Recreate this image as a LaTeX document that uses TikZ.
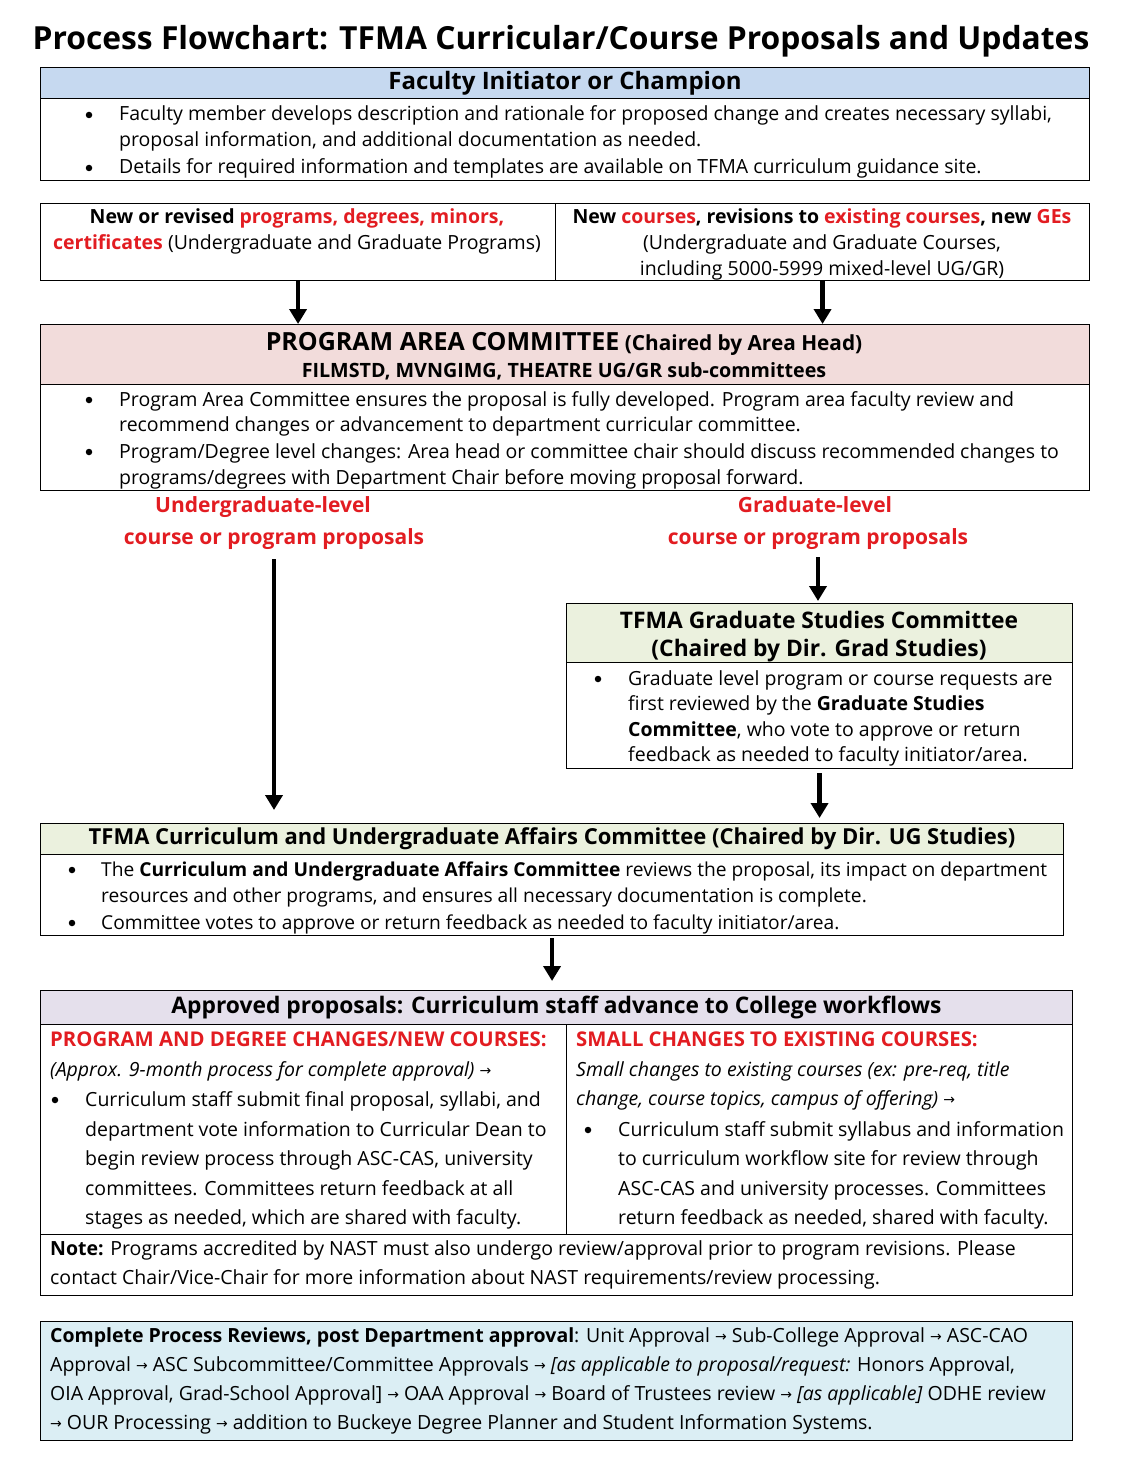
\documentclass[tikz,border=0pt]{standalone}
\usepackage{fontspec}
\setmainfont{Open Sans}
\newfontfamily\symfont{DejaVu Sans}
\usetikzlibrary{arrows.meta,positioning}

\definecolor{headblue}{RGB}{198,217,240}
\definecolor{headpink}{RGB}{242,220,219}
\definecolor{headgreen}{RGB}{235,241,222}
\definecolor{headlilac}{RGB}{229,224,236}
\definecolor{stepcyan}{RGB}{219,238,244}
\definecolor{tfmared}{RGB}{226,28,33}

\newcommand{\redtxt}[1]{\textcolor{tfmared}{#1}}
\newcommand{\rarr}{{\symfont\fontsize{14}{14}\selectfont\raisebox{0.5pt}{→}}}

\begin{document}
\begin{tikzpicture}[x=1pt,y=-1pt,
    box/.style={draw, line width=1.1pt, inner sep=0pt, anchor=north west},
    head/.style={box, font=\bfseries\fontsize{22.8}{27}\selectfont},
    txt/.style={anchor=base west, inner sep=0pt, font=\fontsize{19.5}{24}\selectfont},
    ctr/.style={anchor=base, inner sep=0pt, font=\fontsize{19.5}{24}\selectfont},
    dot/.style={circle, fill, inner sep=0pt, minimum size=6.5pt},
    lbl/.style={anchor=base, inner sep=0pt, text=tfmared, font=\bfseries\fontsize{21}{25}\selectfont},
    flow/.style={-{Triangle[width=17pt,length=15pt]}, line width=4.5pt}]

    \useasboundingbox (0,0) rectangle (1121,1474);

    % Title
    \node[anchor=base, inner sep=0pt, font=\bfseries\fontsize{31.8}{36}\selectfont] (title) at (561,50)
        {Process Flowchart: TFMA Curricular/Course Proposals and Updates};

    % Faculty initiator box
    \node[box, minimum width=1049pt, minimum height=113pt] (fac) at (40,67) {};
    \node[head, fill=headblue, minimum width=1049pt, minimum height=31pt, font=\bfseries\fontsize{24}{28}\selectfont] (facH) at (40,67)
        {Faculty Initiator or Champion};
    \foreach \y in {121, 174} {
        \node[dot] (facD\y) at (89,\y-6) {};
    }
    \foreach \y/\t in {121/{Faculty member develops description and rationale for proposed change and creates necessary syllabi,},
                       147/{proposal information, and additional documentation as needed.},
                       174/{Details for required information and templates are available on TFMA curriculum guidance site.}} {
        \node[txt] (facT\y) at (119,\y) {\t};
    }

    % Kinds of proposals
    \node[box, minimum width=515pt, minimum height=77pt] (progs) at (40,203) {};
    \node[box, minimum width=534pt, minimum height=77pt] (courses) at (555,203) {};
    \node[ctr] (progsT1) at (297,223) {\textbf{New or revised \redtxt{programs, degrees, minors,}}};
    \node[ctr] (progsT2) at (297,249) {\textbf{\redtxt{certificates}} (Undergraduate and Graduate Programs)};
    \node[ctr] (coursesT1) at (822,223) {\textbf{New \redtxt{courses}, revisions to \redtxt{existing courses}, new \redtxt{GEs}}};
    \node[ctr] (coursesT2) at (822,249) {(Undergraduate and Graduate Courses,};
    \node[ctr] (coursesT3) at (822,275) {including 5000-5999 mixed-level UG/GR)};

    % Program area committee
    \node[box, minimum width=1049pt, minimum height=166pt] (pac) at (40,324) {};
    \node[box, fill=headpink, minimum width=1049pt, minimum height=60pt] (pacH) at (40,324) {};
    \node[anchor=base, inner sep=0pt, font=\bfseries\fontsize{20.8}{25}\selectfont] (pacT1) at (564,350)
        {{\fontsize{25}{29}\selectfont PROGRAM AREA COMMITTEE} (Chaired by Area Head)};
    \node[ctr, font=\bfseries\fontsize{19.7}{24}\selectfont] (pacT2) at (564,377) {FILMSTD, MVNGIMG, THEATRE UG/GR sub-committees};
    \foreach \y in {406, 458} {
        \node[dot] (pacD\y) at (89,\y-6) {};
    }
    \foreach \y/\t in {406/{Program Area Committee ensures the proposal is fully developed. Program area faculty review and},
                       431/{recommend changes or advancement to department curricular committee.},
                       458/{Program/Degree level changes: Area head or committee chair should discuss recommended changes to},
                       484/{programs/degrees with Department Chair before moving proposal forward.}} {
        \node[txt] (pacT\y) at (119,\y) {\t};
    }

    % Level labels
    \node[lbl] (ugL1) at (263,512) {Undergraduate-level};
    \node[lbl] (ugL2) at (274,544) {course or program proposals};
    \node[lbl] (grL1) at (815,512) {Graduate-level};
    \node[lbl] (grL2) at (818,544) {course or program proposals};

    % Graduate studies committee
    \node[box, minimum width=506pt, minimum height=165pt] (grad) at (566,603) {};
    \node[box, fill=headgreen, minimum width=506pt, minimum height=59pt] (gradH) at (566,603) {};
    \node[anchor=base, inner sep=0pt, font=\bfseries\fontsize{22.8}{27}\selectfont] (gradT1) at (819,628) {TFMA Graduate Studies Committee};
    \node[anchor=base, inner sep=0pt, font=\bfseries\fontsize{22.8}{27}\selectfont] (gradT2) at (819,656) {(Chaired by Dir. Grad Studies)};
    \node[dot] (gradD) at (598,685-6) {};
    \foreach \y/\t in {685/{Graduate level program or course requests are},
                       710/{first reviewed by the \textbf{Graduate Studies}},
                       736/{\textbf{Committee}, who vote to approve or return},
                       761/{feedback as needed to faculty initiator/area.}} {
        \node[txt] (gradT\y) at (628,\y) {\t};
    }

    % Curriculum and undergraduate affairs committee
    \node[box, minimum width=1023pt, minimum height=112pt] (cur) at (40,823) {};
    \node[head, fill=headgreen, minimum width=1023pt, minimum height=31pt, font=\bfseries\fontsize{22}{26}\selectfont] (curH) at (40,823)
        {TFMA Curriculum and Undergraduate Affairs Committee (Chaired by Dir. UG Studies)};
    \foreach \y in {876, 929} {
        \node[dot] (curD\y) at (72,\y-6) {};
    }
    \foreach \y/\t in {876/{The \textbf{Curriculum and Undergraduate Affairs Committee} reviews the proposal, its impact on department},
                       902/{resources and other programs, and ensures all necessary documentation is complete.},
                       929/{Committee votes to approve or return feedback as needed to faculty initiator/area.}} {
        \node[txt, font=\fontsize{19.2}{24}\selectfont] (curT\y) at (101,\y) {\t};
    }

    % Approved proposals
    \node[box, minimum width=1032pt, minimum height=305pt] (app) at (40,990) {};
    \node[head, fill=headlilac, minimum width=1032pt, minimum height=34pt] (appH) at (40,990)
        {Approved proposals: Curriculum staff advance to College workflows};
    \node[box, minimum width=526pt, minimum height=210pt] (appL) at (40,1024) {};
    \node[box, minimum width=506pt, minimum height=210pt] (appR) at (566,1024) {};
    \node[txt, text=tfmared, font=\bfseries\fontsize{20.3}{24}\selectfont] (appLT) at (50,1046) {PROGRAM AND DEGREE CHANGES/NEW COURSES:};
    \node[txt] (appLI) at (50,1076) {\textit{(Approx. 9-month process for complete approval)} \rarr};
    \node[dot] (appLD) at (55,1106-6) {};
    \foreach \y/\t in {1106/{Curriculum staff submit final proposal, syllabi, and},
                       1136/{department vote information to Curricular Dean to},
                       1165/{begin review process through ASC-CAS, university},
                       1195/{committees. Committees return feedback at all},
                       1224/{stages as needed, which are shared with faculty.}} {
        \node[txt] (appLT\y) at (85,\y) {\t};
    }
    \node[txt, text=tfmared, font=\bfseries\fontsize{20.3}{24}\selectfont] (appRT) at (576,1046) {SMALL CHANGES TO EXISTING COURSES:};
    \node[txt] (appRI1) at (576,1076) {\textit{Small changes to existing courses (ex: pre-req, title}};
    \node[txt] (appRI2) at (576,1105) {\textit{change, course topics, campus of offering)} \rarr};
    \node[dot] (appRD) at (588,1136-6) {};
    \foreach \y/\t in {1136/{Curriculum staff submit syllabus and information},
                       1165/{to curriculum workflow site for review through},
                       1195/{ASC-CAS and university processes. Committees},
                       1224/{return feedback as needed, shared with faculty.}} {
        \node[txt] (appRT\y) at (618,\y) {\t};
    }
    \node[txt] (noteT1) at (50,1255) {\textbf{Note:} Programs accredited by NAST must also undergo review/approval prior to program revisions. Please};
    \node[txt] (noteT2) at (50,1284) {contact Chair/Vice-Chair for more information about NAST requirements/review processing.};

    % Complete process reviews
    \node[box, fill=stepcyan, minimum width=1032pt, minimum height=119pt] (steps) at (40,1321) {};
    \node[txt] (stepsT1) at (50,1342) {\textbf{Complete Process Reviews, post Department approval}: Unit Approval \rarr{} Sub-College Approval \rarr{} ASC-CAO};
    \node[txt] (stepsT2) at (50,1371) {Approval \rarr{} ASC Subcommittee/Committee Approvals \rarr{} \textit{[as applicable to proposal/request:} Honors Approval,};
    \node[txt] (stepsT3) at (50,1400) {OIA Approval, Grad-School Approval] \rarr{} OAA Approval \rarr{} Board of Trustees review \rarr{} \textit{[as applicable]} ODHE review};
    \node[txt] (stepsT4) at (50,1429) {\rarr{} OUR Processing \rarr{} addition to Buckeye Degree Planner and Student Information Systems.};

    % Arrows between the stages
    \draw[flow] (progs.south) -- (progs.south |- pac.north);
    \draw[flow] (courses.south) -- (courses.south |- pac.north);
    \draw[flow, shorten <=10pt, shorten >=13pt] (ugL2.south) -- (ugL2.south |- cur.north);
    \draw[flow, shorten <=8pt, shorten >=2pt] (grL2.south) -- (grL2.south |- grad.north);
    \draw[flow, shorten <=4pt, shorten >=5pt] (grad.south) -- (grad.south |- cur.north);
    \draw[flow, shorten <=2pt, shorten >=9pt] (cur.south) -- (cur.south |- app.north);

\end{tikzpicture}
\end{document}
